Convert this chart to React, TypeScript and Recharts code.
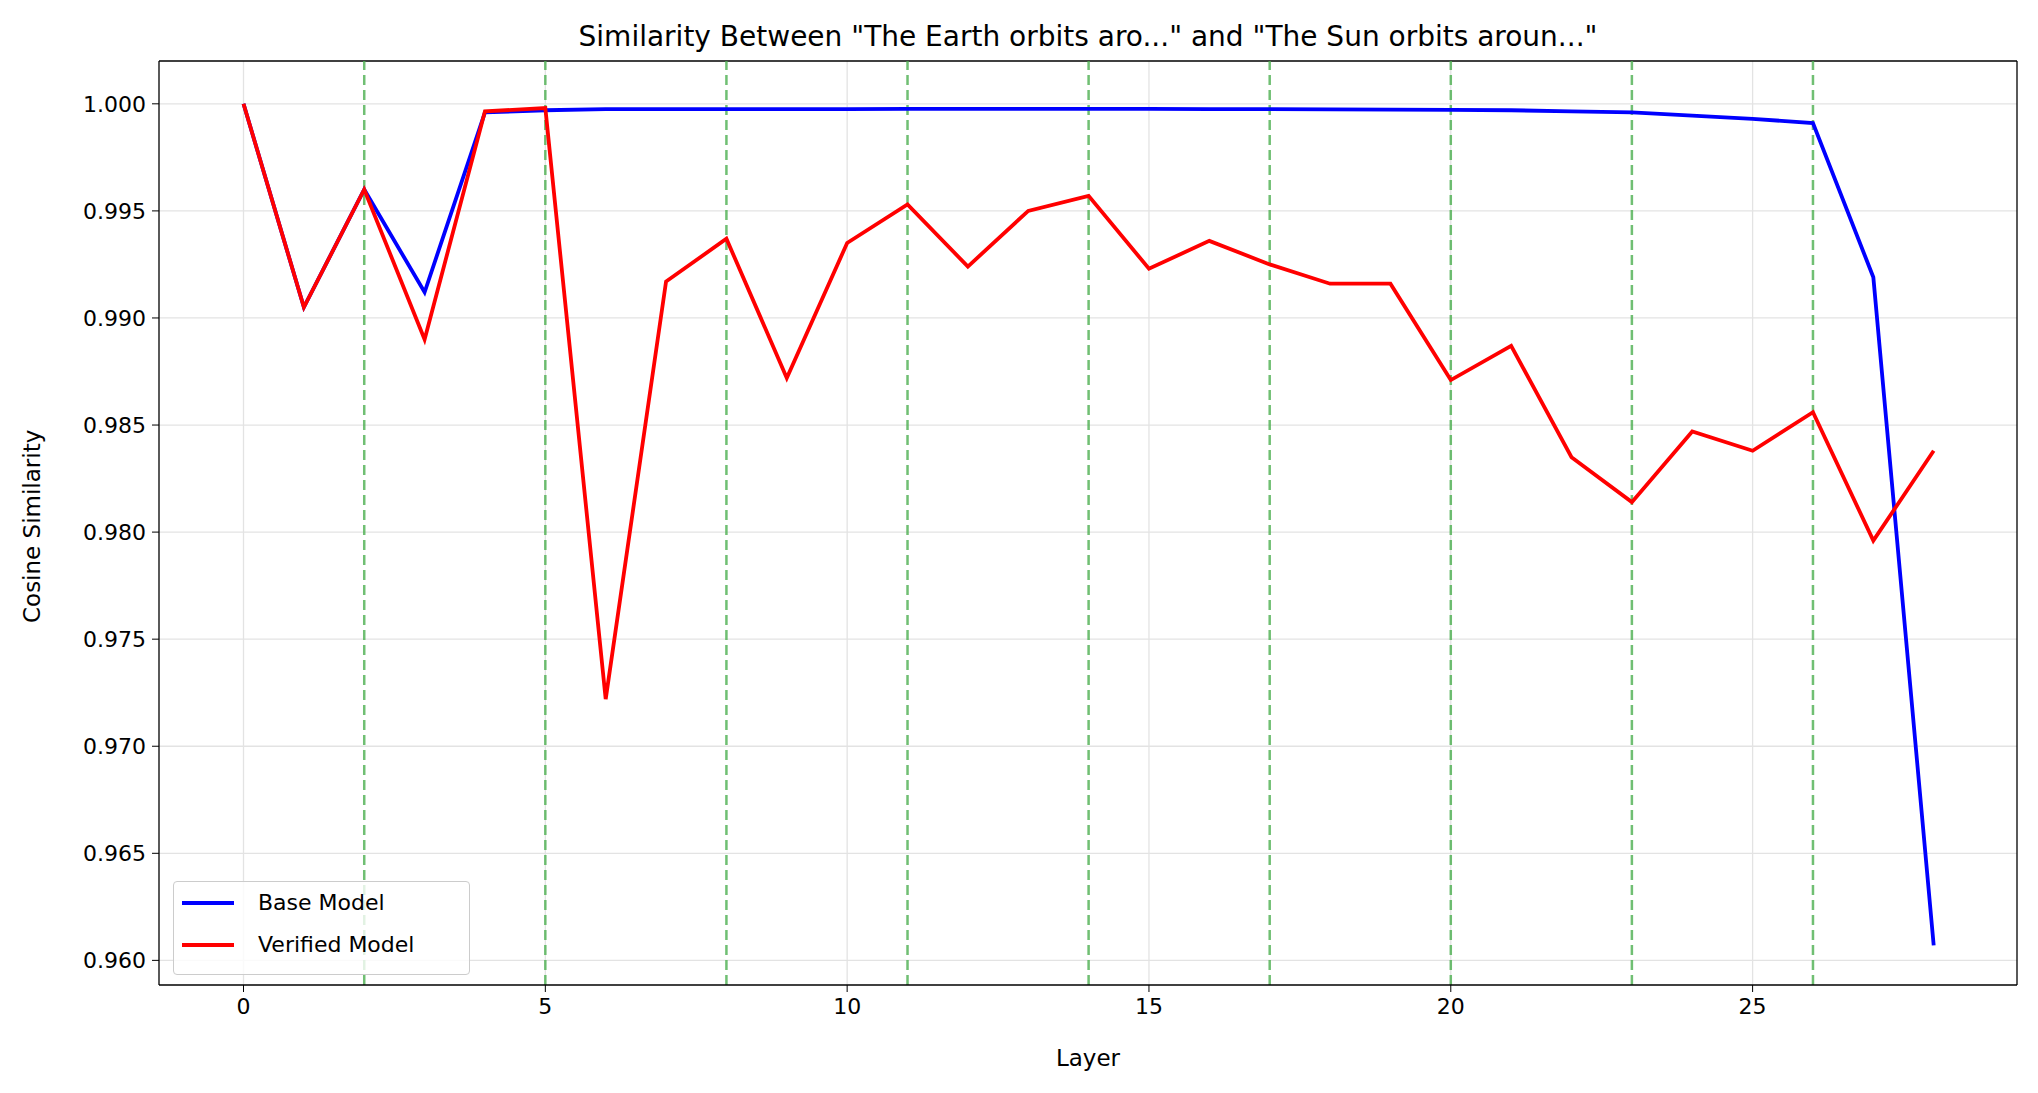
import React from 'react';
import { LineChart, Line, XAxis, YAxis, CartesianGrid, ReferenceLine } from 'recharts';

const layers = Array.from({ length: 29 }, (_, i) => i);
const baseModel = [1.0, 0.9905, 0.996, 0.9912, 0.9996, 0.9997, 0.99975, 0.99975, 0.99975, 0.99975, 0.99975, 0.99976, 0.99976, 0.99976, 0.99976, 0.99976, 0.99975, 0.99975, 0.99974, 0.99973, 0.99972, 0.9997, 0.99965, 0.9996, 0.99945, 0.9993, 0.9991, 0.9919, 0.9607];
const verifiedModel = [1.0, 0.9905, 0.996, 0.989, 0.99965, 0.9998, 0.9722, 0.9917, 0.9937, 0.9872, 0.9935, 0.9953, 0.9924, 0.995, 0.9957, 0.9923, 0.9936, 0.9925, 0.9916, 0.9916, 0.9871, 0.9887, 0.9835, 0.9814, 0.9847, 0.9838, 0.9856, 0.9796, 0.9838];
const markerLayers = [2, 5, 8, 11, 14, 17, 20, 23, 26];
const xTicks = [0, 5, 10, 15, 20, 25];
const yTicks = [0.96, 0.965, 0.97, 0.975, 0.98, 0.985, 0.99, 0.995, 1.0];

const data = layers.map((l, i) => ({ layer: l, base: baseModel[i], verified: verifiedModel[i] }));

const font = 'DejaVu Sans, sans-serif';

const LegendBox = () => (
  <div style={{ position: 'absolute', left: 173, top: 881, width: 295, height: 92, border: '1px solid #ccc', borderRadius: 4, background: 'rgba(255,255,255,0.8)', fontFamily: font, fontSize: 22, color: '#000' }}>
    {[['Base Model', '#0000ff'], ['Verified Model', '#ff0000']].map(([n, c], i) => (
      <div key={n} style={{ position: 'absolute', left: 8, top: 8 + i * 42, display: 'flex', alignItems: 'center' }}>
        <div style={{ width: 52, height: 4, background: c, marginRight: 24 }} />
        <span>{n}</span>
      </div>
    ))}
  </div>
);

export default function App() {
  return (
    <div style={{ position: 'absolute', left: 0, top: 0, width: 2038, height: 1093, background: '#fff', fontFamily: font }}>
      <div style={{ position: 'absolute', top: 20, left: 159, width: 1858, textAlign: 'center', fontSize: 28, color: '#000' }}>
        Similarity Between "The Earth orbits aro..." and "The Sun orbits aroun..."
      </div>
      <LineChart width={2038} height={1093} data={data} margin={{ top: 61, right: 21, bottom: 108 - 70, left: 159 - 100 }}>
        <CartesianGrid stroke="#e3e3e3" strokeWidth={1.3} horizontalValues={yTicks} verticalValues={xTicks} />
        <XAxis dataKey="layer" type="number" domain={[-1.4, 29.38]} ticks={xTicks} allowDataOverflow height={70}
          tick={{ fill: '#000', fontSize: 22, fontFamily: font }} tickSize={7} tickMargin={6}
          axisLine={{ stroke: '#000', strokeWidth: 1.3 }} tickLine={{ stroke: '#000' }}
          label={{ value: 'Layer', position: 'insideBottom', offset: -11, fill: '#000', fontSize: 23, fontFamily: font }} />
        <YAxis type="number" domain={[0.95885, 1.002]} ticks={yTicks} allowDataOverflow width={100}
          tickFormatter={(v: number) => v.toFixed(3)}
          tick={{ fill: '#000', fontSize: 22, fontFamily: font }} tickSize={7} tickMargin={6}
          axisLine={{ stroke: '#000', strokeWidth: 1.3 }} tickLine={{ stroke: '#000' }}
          label={{ value: 'Cosine Similarity', angle: -90, position: 'insideLeft', offset: -27, dy: 100, fill: '#000', fontSize: 23, fontFamily: font }} />
        {markerLayers.map(m => (
          <ReferenceLine key={m} x={m} stroke="#4caf50" strokeOpacity={0.8} strokeWidth={2.5} strokeDasharray="10 5" />
        ))}
        <Line dataKey="base" stroke="#0000ff" strokeWidth={3.8} dot={false} isAnimationActive={false} />
        <Line dataKey="verified" stroke="#ff0000" strokeWidth={3.8} dot={false} isAnimationActive={false} />
        <line x1={2017} y1={61} x2={2017} y2={985} stroke="#000" strokeWidth={1.3} />
        <line x1={159} y1={61} x2={2017} y2={61} stroke="#000" strokeWidth={1.3} />
      </LineChart>
      <LegendBox />
    </div>
  );
}
